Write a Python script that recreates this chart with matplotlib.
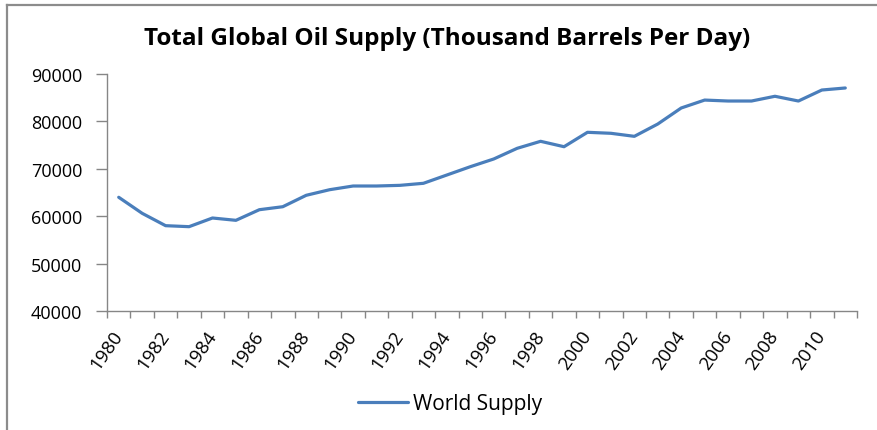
import matplotlib
matplotlib.use("Agg")
import matplotlib.pyplot as plt
from matplotlib.lines import Line2D
import numpy as np

years = list(range(1980, 2012))
supply = [63990, 60610, 58000, 57790, 59620, 59130, 61370, 62000,
          64410, 65590, 66370, 66370, 66510, 66940, 68690, 70440,
          72070, 74320, 75800, 74660, 77700, 77490, 76850, 79450,
          82830, 84500, 84300, 84300, 85300, 84300, 86620, 87050]
series_name = 'World Supply'
title = 'Total Global Oil Supply (Thousand Barrels Per Day)'

plt.rcParams['font.family'] = ['Open Sans', 'DejaVu Sans']

W, H = 877, 431
fig = plt.figure(figsize=(W / 100, H / 100), dpi=100)
ax = fig.add_axes([107 / W, 1 - 312 / H, (857 - 107) / W, (312 - 75) / H])

ind = np.arange(len(years))
line, = ax.plot(ind, supply, color='#4A7EBB', lw=2.3, solid_joinstyle='round',
                solid_capstyle='round', label=series_name)

ax.set_ylim(40000, 90000)
ax.set_yticks(range(40000, 90001, 10000))
ax.set_xlim(-0.5, len(years) - 0.5)

# tick marks sit between categories, labels on every other year
ax.set_xticks(np.arange(len(years) + 1) - 0.5)
ax.set_xticklabels([])
ax.set_xticks(ind[::2], minor=True)
ax.set_xticklabels([str(y) for y in years[::2]], minor=True, rotation=55,
                   ha='right', va='center', rotation_mode='anchor')
ax.tick_params(axis='x', which='minor', length=0, pad=15, labelsize=13.5)
ax.tick_params(axis='x', which='major', length=5, color='#868686', width=1)
ax.tick_params(axis='y', length=8, color='#868686', width=1, labelsize=13,
               pad=10)

for s in ['top', 'right']:
    ax.spines[s].set_visible(False)
for s in ['left', 'bottom']:
    ax.spines[s].set_color('#868686')
    ax.spines[s].set_linewidth(1)

fig.text(447 / W, 1 - 39 / H, title, ha='center', va='center',
         fontsize=17.5, fontweight='bold')

fig.legend(handles=[line], loc='center', bbox_to_anchor=(450 / W, 1 - 405 / H),
           frameon=False, fontsize=15, handlelength=2.4, handletextpad=0.2,
           borderaxespad=0)

# chart area border (left and top edges only show)
fig.add_artist(Line2D([7 / W, 7 / W], [0, 1 - 6 / H], color='#8c8c8c', lw=1.6,
                      transform=fig.transFigure))
fig.add_artist(Line2D([7 / W, 1], [1 - 6 / H, 1 - 6 / H], color='#8c8c8c',
                      lw=1.6, transform=fig.transFigure))

fig.savefig('out.png', dpi=100)
